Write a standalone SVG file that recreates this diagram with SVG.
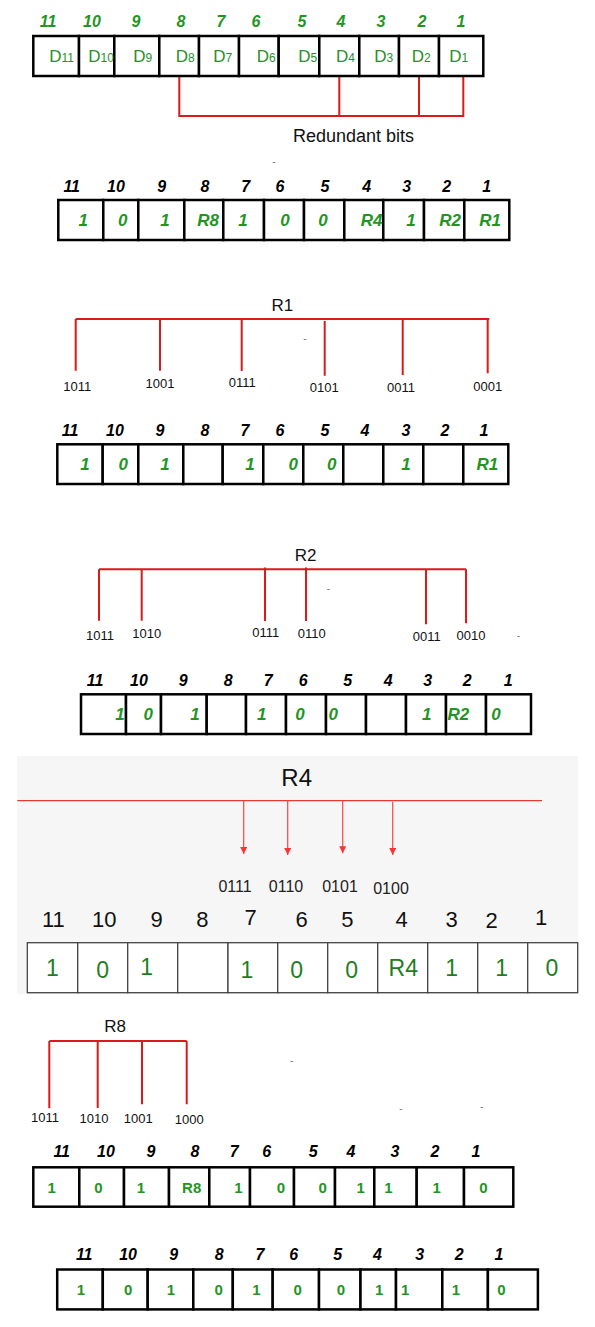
<svg xmlns="http://www.w3.org/2000/svg" width="595" height="1327" viewBox="0 0 595 1327">
<defs>
<style>
.cell{fill:#fff;stroke:#000;stroke-width:2.5}
.cell4{fill:#fff;stroke:#444;stroke-width:1.3}
.hd{font-family:"Liberation Sans",Arial,sans-serif;font-weight:bold;font-style:italic;font-size:16px;fill:#000;text-anchor:middle}
.hdg{font-family:"Liberation Sans",Arial,sans-serif;font-weight:bold;font-style:italic;font-size:16px;fill:#1f961f;text-anchor:middle}
.vi{font-family:"Liberation Sans",Arial,sans-serif;font-weight:bold;font-style:italic;font-size:17px;fill:#1f961f;text-anchor:middle}
.vb{font-family:"Liberation Sans",Arial,sans-serif;font-weight:bold;font-size:15px;fill:#1f961f;text-anchor:middle}
.d{font-family:"Liberation Sans",Arial,sans-serif;font-size:17px;fill:#2a8f2a}
.d tspan{font-size:12px}
.lbl{font-family:"Liberation Sans",Arial,sans-serif;font-size:13px;fill:#111;text-anchor:middle}
.ttl{font-family:"Liberation Sans",Arial,sans-serif;font-size:17px;fill:#111;text-anchor:middle}
.h4{font-family:"Liberation Sans",Arial,sans-serif;font-size:22px;fill:#111;text-anchor:middle}
.v4{font-family:"Liberation Sans",Arial,sans-serif;font-size:23px;fill:#1e7e1e;text-anchor:middle}
.l4{font-family:"Liberation Sans",Arial,sans-serif;font-size:16px;fill:#222;text-anchor:middle}
.dash{font-family:"Liberation Sans",Arial,sans-serif;font-size:10px;fill:#777;text-anchor:middle}
.red{stroke:#dd1a1a;stroke-width:2;fill:none}
.red4{stroke:#e53935;stroke-width:1.2;fill:none}
.arr{stroke:#f44;stroke-width:1.2;fill:none}
</style>
<marker id="ah" viewBox="0 0 10 10" refX="10" refY="5" markerUnits="userSpaceOnUse" markerWidth="7" markerHeight="7" orient="auto">
<path d="M0,0 L10,5 L0,10 z" fill="#f33"/>
</marker>
</defs>
<rect width="595" height="1327" fill="#fff"/>
<rect id="r4-panel" x="17" y="756" width="561" height="238" fill="#f6f6f6"/>

<g id="connectors">
<path class="red" d="M179.3,76 V116 H463.3 V76 M339.3,76 V116 M419,76 V116"/>
<path class="red" d="M75.7,319 H489.3 M75.7,319 V370.7 M160,319 V370.7 M241.7,319 V371 M324.7,321 V375.7 M402.7,319 V375 M487.7,319 V373.3"/>
<path class="red" d="M99,569.3 H466 M99,569.3 V620.7 M141.7,569.3 V620.7 M265,567.5 V621 M306,567.5 V621 M426,569.3 V624.3 M466,569.3 V623.3"/>
<line class="red4" x1="17.3" y1="800.7" x2="542" y2="800.7"/>
<line class="arr" x1="243.7" y1="800.7" x2="243.7" y2="854" marker-end="url(#ah)"/>
<line class="arr" x1="287.7" y1="800.7" x2="287.7" y2="855" marker-end="url(#ah)"/>
<line class="arr" x1="342.7" y1="800.7" x2="342.7" y2="853.3" marker-end="url(#ah)"/>
<line class="arr" x1="392.7" y1="801.7" x2="392.7" y2="855" marker-end="url(#ah)"/>
<path class="red" d="M49.3,1041 H186.7 M49.3,1041 V1108.3 M97.7,1040 V1108 M142,1041 V1104.3 M186.7,1041 V1104.3"/>
</g>

<g id="row-data">
<text class="hdg" x="48" y="27">11</text><text class="hdg" x="92" y="27">10</text><text class="hdg" x="136" y="27">9</text><text class="hdg" x="181" y="27">8</text><text class="hdg" x="221" y="27">7</text><text class="hdg" x="256" y="27">6</text><text class="hdg" x="302" y="27">5</text><text class="hdg" x="341" y="27">4</text><text class="hdg" x="381" y="27">3</text><text class="hdg" x="422" y="27">2</text><text class="hdg" x="461" y="27">1</text>
<rect class="cell" x="33.3" y="36" width="45.7" height="40"/><rect class="cell" x="79" y="36" width="35.3" height="40"/><rect class="cell" x="114.3" y="36" width="45" height="40"/><rect class="cell" x="159.3" y="36" width="39.7" height="40"/><rect class="cell" x="199" y="36" width="40" height="40"/><rect class="cell" x="239" y="36" width="39.7" height="40"/><rect class="cell" x="278.7" y="36" width="40.6" height="40"/><rect class="cell" x="319.3" y="36" width="40" height="40"/><rect class="cell" x="359.3" y="36" width="39.7" height="40"/><rect class="cell" x="399" y="36" width="40" height="40"/><rect class="cell" x="439" y="36" width="44.3" height="40"/>
<text class="d" x="49.3" y="62.3">D<tspan>11</tspan></text>
<text class="d" x="88.3" y="62.3">D<tspan>10</tspan></text>
<text class="d" x="133.3" y="62.3">D<tspan>9</tspan></text>
<text class="d" x="175.7" y="62.3">D<tspan>8</tspan></text>
<text class="d" x="213.3" y="62.3">D<tspan>7</tspan></text>
<text class="d" x="256.7" y="62.3">D<tspan>6</tspan></text>
<text class="d" x="298.3" y="62.3">D<tspan>5</tspan></text>
<text class="d" x="336" y="62.3">D<tspan>4</tspan></text>
<text class="d" x="374.3" y="62.3">D<tspan>3</tspan></text>
<text class="d" x="411.7" y="62.3">D<tspan>2</tspan></text>
<text class="d" x="449.3" y="62.3">D<tspan>1</tspan></text>
<text x="353.5" y="142" font-family="Liberation Sans, Arial, sans-serif" font-size="18" fill="#111" text-anchor="middle">Redundant bits</text>
</g>

<g id="row-positions">
<text class="dash" x="274" y="165">-</text>
<text class="hd" x="71.7" y="191.7">11</text><text class="hd" x="116" y="191.7">10</text><text class="hd" x="161.7" y="191.7">9</text><text class="hd" x="205" y="191.7">8</text><text class="hd" x="245.7" y="191.7">7</text><text class="hd" x="280" y="191.7">6</text><text class="hd" x="325" y="191.7">5</text><text class="hd" x="366.7" y="191.7">4</text><text class="hd" x="406.7" y="191.7">3</text><text class="hd" x="446.7" y="191.7">2</text><text class="hd" x="486.7" y="191.7">1</text>
<rect class="cell" x="58.3" y="200" width="45" height="40"/><rect class="cell" x="103.3" y="200" width="35" height="40"/><rect class="cell" x="138.3" y="200" width="46" height="40"/><rect class="cell" x="184.3" y="200" width="39" height="40"/><rect class="cell" x="223.3" y="200" width="40.7" height="40"/><rect class="cell" x="264" y="200" width="40" height="40"/><rect class="cell" x="304" y="200" width="40.3" height="40"/><rect class="cell" x="344.3" y="200" width="39" height="40"/><rect class="cell" x="383.3" y="200" width="40.7" height="40"/><rect class="cell" x="424" y="200" width="40.3" height="40"/><rect class="cell" x="464.3" y="200" width="45" height="40"/>
<text class="vi" x="83.3" y="225.7">1</text><text class="vi" x="122.7" y="225.7">0</text><text class="vi" x="165" y="225.7">1</text><text class="vi" x="208" y="225.7">R8</text><text class="vi" x="243" y="225.7">1</text><text class="vi" x="285" y="225.7">0</text><text class="vi" x="323" y="225.7">0</text><text class="vi" x="371.7" y="225.7">R4</text><text class="vi" x="411" y="225.7">1</text><text class="vi" x="450" y="225.7">R2</text><text class="vi" x="490" y="225.7">R1</text>
</g>

<g id="r1-check">
<text class="ttl" x="282.3" y="311">R1</text>
<text class="lbl" x="77.3" y="390.7">1011</text><text class="lbl" x="160" y="388.3">1001</text><text class="lbl" x="242.3" y="387.3">0111</text><text class="lbl" x="324.3" y="392.3">0101</text><text class="lbl" x="401" y="391.7">0011</text><text class="lbl" x="487.7" y="391">0001</text>
<text class="dash" x="305" y="342">-</text>
</g>

<g id="row-r1">
<text class="hd" x="70" y="436">11</text><text class="hd" x="115" y="436">10</text><text class="hd" x="160" y="436">9</text><text class="hd" x="205" y="436">8</text><text class="hd" x="245" y="436">7</text><text class="hd" x="280" y="436">6</text><text class="hd" x="325" y="436">5</text><text class="hd" x="365" y="436">4</text><text class="hd" x="406" y="436">3</text><text class="hd" x="445" y="436">2</text><text class="hd" x="484" y="436">1</text>
<rect class="cell" x="57.3" y="444.3" width="45.4" height="39.7"/><rect class="cell" x="102.7" y="444.3" width="35.6" height="39.7"/><rect class="cell" x="138.3" y="444.3" width="45" height="39.7"/><rect class="cell" x="183.3" y="444.3" width="39.4" height="39.7"/><rect class="cell" x="222.7" y="444.3" width="40.6" height="39.7"/><rect class="cell" x="263.3" y="444.3" width="40" height="39.7"/><rect class="cell" x="303.3" y="444.3" width="40" height="39.7"/><rect class="cell" x="343.3" y="444.3" width="40" height="39.7"/><rect class="cell" x="383.3" y="444.3" width="40" height="39.7"/><rect class="cell" x="423.3" y="444.3" width="40" height="39.7"/><rect class="cell" x="463.3" y="444.3" width="45" height="39.7"/>
<text class="vi" x="85" y="470">1</text><text class="vi" x="123.3" y="470">0</text><text class="vi" x="165" y="470">1</text><text class="vi" x="250" y="470">1</text><text class="vi" x="293.3" y="470">0</text><text class="vi" x="331.7" y="470">0</text><text class="vi" x="406" y="470">1</text><text class="vi" x="487.3" y="470">R1</text>
</g>

<g id="r2-check">
<text class="ttl" x="305.7" y="560.7">R2</text>
<text class="lbl" x="100" y="640">1011</text><text class="lbl" x="146.7" y="637.7">1010</text><text class="lbl" x="265.7" y="637">0111</text><text class="lbl" x="311.7" y="638.3">0110</text><text class="lbl" x="426.7" y="641">0011</text><text class="lbl" x="471" y="640">0010</text>
<text class="dash" x="328.3" y="592">-</text><text class="dash" x="518.3" y="639">-</text>
</g>

<g id="row-r2">
<text class="hd" x="95" y="686">11</text><text class="hd" x="139" y="686">10</text><text class="hd" x="183.3" y="686">9</text><text class="hd" x="228.3" y="686">8</text><text class="hd" x="268.3" y="686">7</text><text class="hd" x="303.3" y="686">6</text><text class="hd" x="347.7" y="686">5</text><text class="hd" x="388.3" y="686">4</text><text class="hd" x="427.7" y="686">3</text><text class="hd" x="467.3" y="686">2</text><text class="hd" x="508.3" y="686">1</text>
<rect class="cell" x="81" y="694.3" width="45" height="39.7"/><rect class="cell" x="126" y="694.3" width="35" height="39.7"/><rect class="cell" x="161" y="694.3" width="45.7" height="39.7"/><rect class="cell" x="206.7" y="694.3" width="39.3" height="39.7"/><rect class="cell" x="246" y="694.3" width="40" height="39.7"/><rect class="cell" x="286" y="694.3" width="40" height="39.7"/><rect class="cell" x="326" y="694.3" width="40" height="39.7"/><rect class="cell" x="366" y="694.3" width="40" height="39.7"/><rect class="cell" x="406" y="694.3" width="40" height="39.7"/><rect class="cell" x="446" y="694.3" width="40" height="39.7"/><rect class="cell" x="486" y="694.3" width="45" height="39.7"/>
<text class="vi" x="120" y="720">1</text><text class="vi" x="148.3" y="720">0</text><text class="vi" x="195" y="720">1</text><text class="vi" x="261.7" y="720">1</text><text class="vi" x="300" y="720">0</text><text class="vi" x="333.3" y="720">0</text><text class="vi" x="426.7" y="720">1</text><text class="vi" x="458.3" y="720">R2</text><text class="vi" x="496" y="720">0</text>
</g>

<g id="r4-check">
<text x="296.7" y="786" font-family="Liberation Sans, Arial, sans-serif" font-size="24" fill="#111" text-anchor="middle">R4</text>
<text class="l4" x="235" y="891.7">0111</text><text class="l4" x="286" y="891.7">0110</text><text class="l4" x="340" y="891.7">0101</text><text class="l4" x="391" y="894">0100</text>
</g>

<g id="row-r4">
<text class="h4" x="53.3" y="926.7">11</text><text class="h4" x="104.3" y="926.7">10</text><text class="h4" x="156.7" y="926.7">9</text><text class="h4" x="202.3" y="926.7">8</text><text class="h4" x="250.7" y="925">7</text><text class="h4" x="301.7" y="926.7">6</text><text class="h4" x="347.3" y="926.7">5</text><text class="h4" x="401.7" y="926.7">4</text><text class="h4" x="451.7" y="926.7">3</text><text class="h4" x="491.7" y="928">2</text><text class="h4" x="541" y="925">1</text>
<rect class="cell4" x="27.3" y="942.7" width="50.4" height="50"/><rect class="cell4" x="77.7" y="942.7" width="50" height="50"/><rect class="cell4" x="127.7" y="942.7" width="50" height="50"/><rect class="cell4" x="177.7" y="942.7" width="50.3" height="50"/><rect class="cell4" x="228" y="942.7" width="49.7" height="50"/><rect class="cell4" x="277.7" y="942.7" width="50" height="50"/><rect class="cell4" x="327.7" y="942.7" width="50" height="50"/><rect class="cell4" x="377.7" y="942.7" width="50" height="50"/><rect class="cell4" x="427.7" y="942.7" width="50" height="50"/><rect class="cell4" x="477.7" y="942.7" width="50" height="50"/><rect class="cell4" x="527.7" y="942.7" width="50" height="50"/>
<text class="v4" x="52.3" y="976">1</text><text class="v4" x="102.7" y="977.7">0</text><text class="v4" x="146.7" y="975">1</text><text class="v4" x="247" y="978.3">1</text><text class="v4" x="296.7" y="977.7">0</text><text class="v4" x="351.7" y="978.3">0</text><text class="v4" x="403.3" y="976">R4</text><text class="v4" x="451.7" y="976">1</text><text class="v4" x="501.7" y="976">1</text><text class="v4" x="552" y="976">0</text>
</g>

<g id="r8-check">
<text class="ttl" x="115" y="1032.3">R8</text>
<text class="lbl" x="45" y="1121.7">1011</text><text class="lbl" x="94" y="1123.3">1010</text><text class="lbl" x="138.3" y="1123">1001</text><text class="lbl" x="189.3" y="1124">1000</text>
<text class="dash" x="291.7" y="1064">-</text><text class="dash" x="401" y="1112">-</text><text class="dash" x="481.7" y="1110">-</text>
</g>

<g id="row-r8">
<text class="hd" x="61.7" y="1157.3">11</text><text class="hd" x="106" y="1157.3">10</text><text class="hd" x="151" y="1157.3">9</text><text class="hd" x="195" y="1157.3">8</text><text class="hd" x="234.3" y="1157.3">7</text><text class="hd" x="266.7" y="1157.3">6</text><text class="hd" x="313.3" y="1157.3">5</text><text class="hd" x="351" y="1157.3">4</text><text class="hd" x="395" y="1157.3">3</text><text class="hd" x="435" y="1157.3">2</text><text class="hd" x="476" y="1157.3">1</text>
<rect class="cell" x="33.3" y="1167.3" width="46" height="39.4"/><rect class="cell" x="79.3" y="1167.3" width="44.7" height="39.4"/><rect class="cell" x="124" y="1167.3" width="45" height="39.4"/><rect class="cell" x="169" y="1167.3" width="40.3" height="39.4"/><rect class="cell" x="209.3" y="1167.3" width="40.7" height="39.4"/><rect class="cell" x="250" y="1167.3" width="44" height="39.4"/><rect class="cell" x="294" y="1167.3" width="41" height="39.4"/><rect class="cell" x="335" y="1167.3" width="39.3" height="39.4"/><rect class="cell" x="374.3" y="1167.3" width="42.4" height="39.4"/><rect class="cell" x="416.7" y="1167.3" width="47.3" height="39.4"/><rect class="cell" x="464" y="1167.3" width="49.3" height="39.4"/>
<text class="vb" x="51.7" y="1193.3">1</text><text class="vb" x="98.3" y="1193.3">0</text><text class="vb" x="141" y="1193.3">1</text><text class="vb" x="191.7" y="1193.3">R8</text><text class="vb" x="238.3" y="1193.3">1</text><text class="vb" x="281" y="1193.3">0</text><text class="vb" x="322.7" y="1193.3">0</text><text class="vb" x="360.7" y="1193.3">1</text><text class="vb" x="388.3" y="1193.3">1</text><text class="vb" x="436.7" y="1193.3">1</text><text class="vb" x="483.3" y="1193.3">0</text>
</g>

<g id="row-final">
<text class="hd" x="84.2" y="1260.4">11</text><text class="hd" x="128.1" y="1260.4">10</text><text class="hd" x="173.7" y="1260.4">9</text><text class="hd" x="219.3" y="1260.4">8</text><text class="hd" x="259.9" y="1260.4">7</text><text class="hd" x="293.6" y="1260.4">6</text><text class="hd" x="337.6" y="1260.4">5</text><text class="hd" x="377.4" y="1260.4">4</text><text class="hd" x="419.7" y="1260.4">3</text><text class="hd" x="459.2" y="1260.4">2</text><text class="hd" x="499" y="1260.4">1</text>
<rect class="cell" x="57.2" y="1269.5" width="45.6" height="39.9"/><rect class="cell" x="102.8" y="1269.5" width="44.9" height="39.9"/><rect class="cell" x="147.7" y="1269.5" width="45.6" height="39.9"/><rect class="cell" x="193.3" y="1269.5" width="39.5" height="39.9"/><rect class="cell" x="232.8" y="1269.5" width="39.9" height="39.9"/><rect class="cell" x="272.7" y="1269.5" width="46.3" height="39.9"/><rect class="cell" x="319" y="1269.5" width="41.5" height="39.9"/><rect class="cell" x="360.5" y="1269.5" width="35.5" height="39.9"/><rect class="cell" x="396" y="1269.5" width="46.3" height="39.9"/><rect class="cell" x="442.3" y="1269.5" width="45.6" height="39.9"/><rect class="cell" x="487.9" y="1269.5" width="50" height="39.9"/>
<text class="vb" x="80.8" y="1295.2">1</text><text class="vb" x="128.1" y="1295.2">0</text><text class="vb" x="171" y="1295.2">1</text><text class="vb" x="218.6" y="1295.2">0</text><text class="vb" x="256.5" y="1295.2">1</text><text class="vb" x="297.7" y="1295.2">0</text><text class="vb" x="341" y="1295.2">0</text><text class="vb" x="379.1" y="1295.2">1</text><text class="vb" x="405.1" y="1295.2">1</text><text class="vb" x="455.8" y="1295.2">1</text><text class="vb" x="501.4" y="1295.2">0</text>
</g>
</svg>
